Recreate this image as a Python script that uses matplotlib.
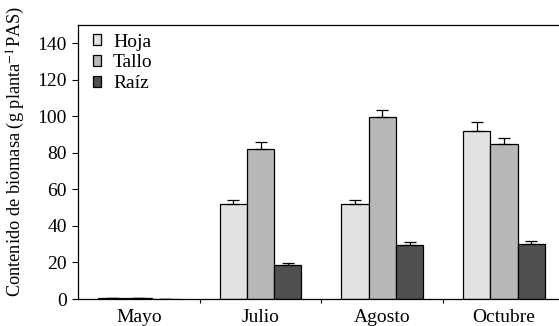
import numpy as np
import matplotlib
matplotlib.use("Agg")
import matplotlib.pyplot as plt

plt.rcParams["font.family"] = ["Liberation Serif", "DejaVu Serif"]
plt.rcParams["mathtext.fontset"] = "stix"

# Biomass per organ and sampling month, with standard errors
months = ["Mayo", "Julio", "Agosto", "Octubre"]
organs = ["Hoja", "Tallo", "Raíz"]
hoja = [0.7, 52.3, 52.3, 92.3]
tallo = [0.7, 82.0, 99.6, 85.1]
raiz = [0.2, 18.4, 29.7, 30.4]
hoja_err = [0.1, 1.7, 1.7, 4.8]
tallo_err = [0.1, 3.8, 4.0, 3.3]
raiz_err = [0.05, 1.4, 1.4, 1.5]
colors = ["#e1e2e4", "#b8b8b8", "#505050"]

fig = plt.figure(figsize=(5.59, 3.26), dpi=100)
ax = fig.add_axes([0.1395, 0.0828, 0.871, 0.84])

x = np.arange(len(months))
width = 0.224
series = [hoja, tallo, raiz]
errors = [hoja_err, tallo_err, raiz_err]
for i, (vals, err) in enumerate(zip(series, errors)):
    pos = x + (i - 1) * width
    ax.bar(pos, vals, width, color=colors[i], edgecolor="black",
           linewidth=0.9, label=organs[i], zorder=2)
    ax.errorbar(pos, vals, yerr=[np.zeros(len(err)), err], fmt="none",
                ecolor="black", elinewidth=0.9, capsize=4, capthick=0.9,
                zorder=3)

ax.set_xlim(-0.5, 3.5)
ax.set_ylim(0, 150)
ax.set_yticks(np.arange(0, 141, 20))
ax.set_xticks(x)
ax.set_xticklabels(months)
ax.set_xticks([0.5, 1.5, 2.5], minor=True)
ax.tick_params(axis="x", which="major", length=0, labelsize=14, pad=7)
ax.tick_params(axis="x", which="minor", length=3, width=0.8)
ax.tick_params(axis="y", length=4, width=0.8, labelsize=14, pad=4)
ax.spines["right"].set_visible(False)
for s in ["left", "top", "bottom"]:
    ax.spines[s].set_linewidth(0.9)

ax.set_ylabel("Contenido de biomasa (g planta$^{-1}$PAS)", fontsize=13.2)
ax.yaxis.set_label_coords(-0.105, 0.538)

ax.legend(loc="upper left", frameon=False, fontsize=14,
          handlelength=0.45, handleheight=0.45, handletextpad=0.6,
          labelspacing=0.2, borderaxespad=0.2, bbox_to_anchor=(0.006, 1.012))

fig.savefig("out.png", dpi=100)
